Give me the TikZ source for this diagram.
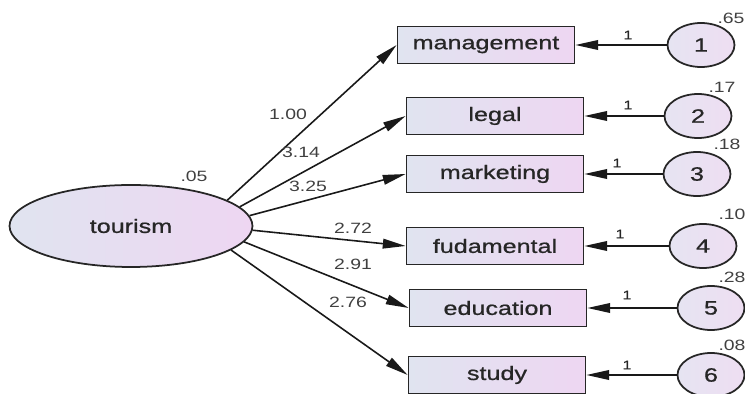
\documentclass[tikz,border=0pt]{standalone}
\usepackage{fontspec}
\setmainfont[FakeStretch=1.3]{Liberation Sans}
\newfontfamily\labfont[FakeStretch=1.3,FakeBold=0.8]{Liberation Sans}
\usetikzlibrary{shapes.geometric, arrows.meta}

\definecolor{shadeL}{RGB}{224,228,240}
\definecolor{shadeR}{RGB}{238,214,242}
\definecolor{errL}{RGB}{230,228,242}
\definecolor{errR}{RGB}{238,222,242}

\begin{document}
\begin{tikzpicture}[x=0.02cm, y=-0.02cm,
    latent/.style={ellipse, draw=black!85, line width=1pt, left color=shadeL, right color=shadeR,
      minimum width=4.86cm, minimum height=1.64cm, inner sep=0pt, text=black!85,
      font=\labfont\fontsize{11}{13}\selectfont},
    observed/.style={rectangle, draw=black!85, line width=1pt, left color=shadeL, right color=shadeR,
      minimum width=3.54cm, minimum height=0.74cm, inner sep=0pt, text=black!85,
      font=\labfont\fontsize{11}{13}\selectfont},
    error/.style={ellipse, draw=black!85, line width=1pt, left color=errL, right color=errR,
      minimum width=1.34cm, minimum height=0.88cm, inner sep=0pt, text=black!85,
      font=\labfont\fontsize{11}{13}\selectfont},
    coef/.style={inner sep=0pt, text=black!75, font=\fontsize{8.5}{10}\selectfont},
    fixed/.style={inner sep=0pt, text=black!85, font=\labfont\fontsize{7}{8}\selectfont},
    regline/.style={-{Triangle[length=13pt,width=5.5pt]}, line width=0.9pt, draw=black!90}]

  \useasboundingbox (0,0) rectangle (745,394);

  % factor and indicators
  \node (tour) [latent] at (131,226) {tourism};
  \node (m1) [observed] at (486,45) {management};
  \node (m2) [observed] at (495,116) {legal};
  \node (m3) [observed] at (495,174) {marketing};
  \node (m4) [observed] at (495,246) {fudamental};
  \node (m5) [observed] at (498,308) {education};
  \node (m6) [observed] at (497,375) {study};

  % error terms
  \node (e1) [error] at (701,45) {1};
  \node (e2) [error] at (698,116) {2};
  \node (e3) [error] at (697,174) {3};
  \node (e4) [error] at (703,246) {4};
  \node (e5) [error] at (711,308) {5};
  \node (e6) [error] at (711,375) {6};

  % loadings
  \coordinate (s6) at (231,250);
  \draw [regline] (tour.15) -- (m1.west);
  \draw [regline] (tour.10) -- (m2.west);
  \draw [regline] (tour.5) -- (m3.west);
  \draw [regline] (tour.358) -- (m4.west);
  \draw [regline] (tour.352) -- (m5.west);
  \draw [regline] (s6) -- (m6.west);

  \foreach \i in {1,...,6}
    \draw [regline] (e\i) -- (m\i);

  % estimates
  \node (w0) [coef] at (194,176) {.05};
  \node (k1) [coef] at (288,114) {1.00};
  \node (k2) [coef] at (301,152) {3.14};
  \node (k3) [coef] at (308,186) {3.25};
  \node (k4) [coef] at (353,228) {2.72};
  \node (k5) [coef] at (353,264) {2.91};
  \node (k6) [coef] at (348,302) {2.76};

  \node (w1) [coef] at (731,18) {.65};
  \node (w2) [coef] at (722,87) {.17};
  \node (w3) [coef] at (727,144) {.18};
  \node (w4) [coef] at (732,214) {.10};
  \node (w5) [coef] at (732,277) {.28};
  \node (w6) [coef] at (732,345) {.08};

  \node (f1) [fixed] at (628,35) {1};
  \node (f2) [fixed] at (628,105) {1};
  \node (f3) [fixed] at (617,163) {1};
  \node (f4) [fixed] at (620,234) {1};
  \node (f5) [fixed] at (627,295) {1};
  \node (f6) [fixed] at (627,365) {1};
\end{tikzpicture}
\end{document}
